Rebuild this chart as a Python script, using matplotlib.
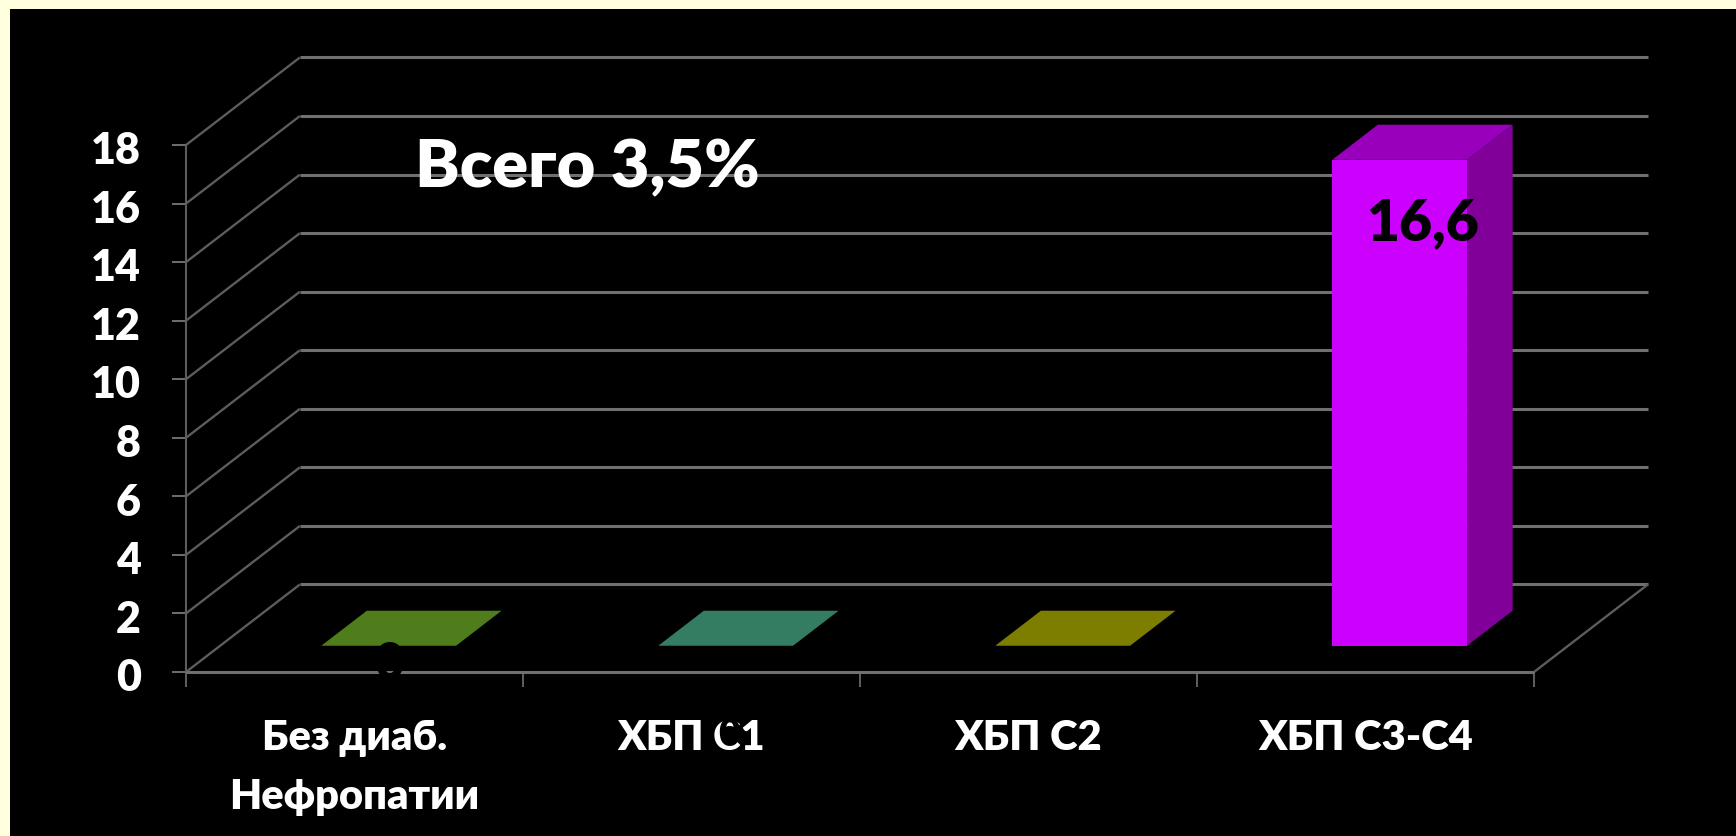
import matplotlib
matplotlib.use('Agg')
import matplotlib.pyplot as plt
from matplotlib.patches import Polygon, Rectangle

categories = ['Без диаб.\nНефропатии', 'ХБП С1', 'ХБП С2', 'ХБП С3-С4']
values = [0, 0, 0, 16.6]
value_labels = ['0', '0', '', '16,6']
y_ticks = [0, 2, 4, 6, 8, 10, 12, 14, 16, 18]

front_colors = ['#66A324', '#43A37E', '#A3A300', '#CC00FF']
top_colors = ['#4F7D1C', '#347D62', '#7D7D00', '#9900BB']
side_colors = ['#41681A', '#2B6851', '#686800', '#800099']

W, H = 1736, 837
plt.rcParams['font.family'] = ['Lato', 'Noto Sans', 'DejaVu Sans']
plt.rcParams['font.weight'] = 'heavy'

fig = plt.figure(figsize=(W / 100, H / 100), dpi=100, facecolor='#FFFFDD')
bg = fig.add_axes([10 / W, 0, 1 - 10 / W, 1 - 10 / H])
bg.set_axis_off()
bg.add_patch(Rectangle((0, 0), 1, 1, transform=bg.transAxes, color='black'))

ax = fig.add_axes([186 / W, (H - 673) / H, 1348 / W, 527 / H])
ax.set_xlim(0, 4)
ax.set_ylim(0, 18)
ax.set_axis_off()

# oblique projection: how far the back wall is shifted from the front plane
DX = 0.338
DY = 2.99
GRID = '#707070'
GRID_DIM = '#5C5C5C'


def project(x, y, depth):
    return x + DX * depth, y + DY * depth


def line(xs, ys, lw=1.6, color=GRID, z=1):
    ax.plot(xs, ys, color=color, lw=lw, clip_on=False, zorder=z, solid_capstyle='butt')


# walls and floor
for t in y_ticks:
    bx, by = project(0, t, 1)
    ex, ey = project(4, t, 1)
    line([0, bx], [t, by], lw=1.7, color=GRID_DIM)
    line([bx, ex], [by, ey], lw=2.2)
    line([-14 / 337, 0], [t, t], lw=1.4)
line([0, 0], [0, 18], lw=1.5, color=GRID_DIM)
line([0, 4], [0, 0], lw=2.2)
line([4, project(4, 0, 1)[0]], [0, project(4, 0, 1)[1]], lw=1.7, color=GRID_DIM)
for i in range(5):
    line([i, i], [0, -15 / 29.28], lw=1.2)

# bars: 0.4 wide, standing in the middle of the floor depth
for i, v in enumerate(values):
    x0, x1 = i + 0.3, i + 0.7
    d0, d1 = 0.3, 0.7
    fl = project(x0, 0, d0)
    fr = project(x1, 0, d0)
    tl = project(x0, v, d0)
    tr = project(x1, v, d0)
    bl = project(x0, v, d1)
    br = project(x1, v, d1)
    br0 = project(x1, 0, d1)
    if v > 0:
        ax.add_patch(Polygon([fl, fr, tr, tl], color=front_colors[i], lw=0, clip_on=False, zorder=3))
        ax.add_patch(Polygon([fr, br0, br, tr], color=side_colors[i], lw=0, clip_on=False, zorder=3))
    ax.add_patch(Polygon([tl, tr, br, bl], color=top_colors[i], lw=0, clip_on=False, zorder=3))

# value labels are black, so the zero only shows where it crosses a mark
ax.text(0.605, -0.2, value_labels[0], color='black', fontsize=37, ha='center', va='baseline', zorder=5, clip_on=False)
ax.text(3.67, 14.79, value_labels[3], color='black', fontsize=41, ha='center', va='baseline', zorder=5)

ax.text(229 / 337, 17.25, 'Всего 3,5%', color='white', fontsize=48, ha='left', va='center', zorder=5)

for t in y_ticks:
    ax.text(-45 / 337, t - 0.18, str(t), color='white', fontsize=31, ha='right', va='center', clip_on=False)
for i, c in enumerate(categories):
    ax.text(i + 0.5, -1.57, c, color='white', fontsize=30, ha='center', va='top',
            linespacing=1.68, clip_on=False, zorder=4)
# the second zero sits over the С of its category name
ax.text(1.612, -2.12, value_labels[1], color='black', fontsize=27, ha='center', va='center', zorder=5, clip_on=False)

fig.savefig('out.png', dpi=100, facecolor=fig.get_facecolor())
